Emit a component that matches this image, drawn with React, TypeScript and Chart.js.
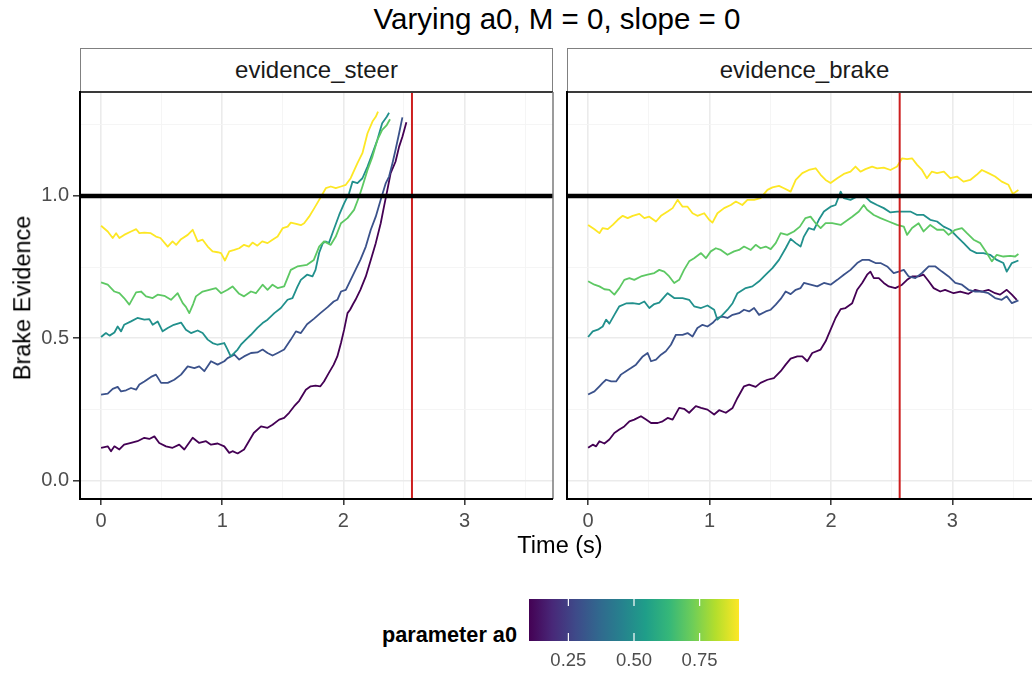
import React, { useEffect, useRef } from 'react';
import { Chart, registerables } from 'chart.js';

Chart.register(...registerables);

// ---------- data ----------
const a0Values = [0.1, 0.3, 0.5, 0.7, 0.9];
const a0Colors = ['#440154', '#3B528B', '#21908C', '#5DC863', '#FDE725'];
const viridisStops = ['#440154', '#482878', '#3E4A89', '#31688E', '#26828E', '#1F9E89', '#35B779', '#6DCD59', '#B4DE2C', '#FDE725'];

const xTicks = [0, 0.5, 1, 1.5, 2, 2.5, 3, 3.5];
const xMajor = [0, 1, 2, 3];
const yTicks = [0, 0.25, 0.5, 0.75, 1, 1.25];
const yMajor = [0, 0.5, 1];
const legendTicks = [0.25, 0.5, 0.75];

const thresholdY = 1.0;
const eventTime = 2.566;
const xLimits = [-0.174, 3.73];
const yLimits = [-0.065, 1.365];

type P = [number, number];

// evidence_steer panel
const steerA01: P[] = [[0,.115],[.055,.12],[.082,.103],[.11,.12],[.151,.109],[.19,.126],[.247,.132],[.30,.138],[.357,.15],[.398,.146],[.44,.155],[.48,.132],[.536,.12],[.59,.115],[.645,.126],[.687,.109],[.756,.15],[.81,.132],[.866,.138],[.907,.126],[.962,.13],[1.017,.12],[1.058,.097],[1.085,.103],[1.127,.095],[1.18,.109],[1.22,.138],[1.26,.167],[1.32,.19],[1.374,.185],[1.415,.196],[1.47,.214],[1.511,.22],[1.552,.238],[1.594,.261],[1.635,.28],[1.69,.319],[1.73,.331],[1.77,.333],[1.81,.331],[1.84,.348],[1.88,.378],[1.92,.407],[1.95,.436],[1.98,.483],[2.006,.53],[2.034,.588],[2.055,.60],[2.08,.62],[2.10,.635],[2.14,.67],[2.185,.717],[2.226,.775],[2.267,.834],[2.308,.904],[2.335,.962],[2.363,1.021],[2.39,1.08],[2.43,1.12],[2.46,1.173],[2.487,1.208],[2.52,1.259]];
const steerA03: P[] = [[0,.302],[.055,.305],[.096,.322],[.137,.329],[.165,.313],[.206,.317],[.247,.325],[.289,.319],[.316,.337],[.357,.348],[.412,.364],[.453,.372],[.495,.343],[.55,.343],[.604,.354],[.66,.372],[.715,.401],[.77,.395],[.81,.401],[.852,.384],[.907,.419],[.962,.407],[1.017,.419],[1.044,.43],[1.10,.442],[1.14,.425],[1.18,.436],[1.237,.448],[1.29,.45],[1.333,.46],[1.374,.448],[1.415,.439],[1.457,.448],[1.511,.46],[1.566,.495],[1.608,.524],[1.649,.518],[1.70,.549],[1.756,.568],[1.81,.588],[1.87,.609],[1.92,.629],[1.95,.635],[1.98,.664],[2.02,.67],[2.06,.705],[2.10,.74],[2.14,.775],[2.185,.822],[2.226,.881],[2.267,.927],[2.308,.986],[2.35,1.045],[2.377,1.068],[2.405,1.115],[2.43,1.161],[2.46,1.22],[2.487,1.276]];
const steerA05: P[] = [[0,.504],[.04,.518],[.07,.509],[.11,.52],[.137,.541],[.165,.524],[.19,.547],[.247,.559],[.30,.571],[.357,.565],[.398,.567],[.426,.547],[.467,.559],[.508,.524],[.55,.536],[.60,.547],[.66,.555],[.70,.53],[.742,.518],[.797,.527],[.838,.518],[.88,.495],[.92,.483],[.962,.477],[1.017,.483],[1.044,.46],[1.07,.436],[1.10,.448],[1.127,.46],[1.154,.477],[1.195,.495],[1.237,.512],[1.29,.536],[1.333,.553],[1.374,.565],[1.43,.588],[1.484,.606],[1.539,.635],[1.58,.641],[1.62,.68],[1.649,.705],[1.70,.723],[1.745,.717],[1.77,.74],[1.80,.80],[1.83,.834],[1.855,.84],[1.88,.834],[1.92,.881],[1.965,.933],[2.006,.974],[2.047,1.009],[2.075,1.05],[2.116,1.045],[2.157,1.062],[2.199,1.103],[2.24,1.15],[2.28,1.196],[2.32,1.255],[2.358,1.278],[2.377,1.292]];
const steerA07: P[] = [[0,.696],[.055,.688],[.11,.664],[.151,.658],[.19,.641],[.233,.618],[.289,.661],[.33,.664],[.371,.647],[.426,.641],[.467,.653],[.522,.649],[.577,.635],[.632,.658],[.674,.623],[.70,.61],[.728,.588],[.76,.62],[.783,.647],[.838,.664],[.893,.67],[.948,.676],[.99,.658],[1.044,.67],[1.085,.682],[1.14,.656],[1.18,.647],[1.237,.664],[1.278,.658],[1.333,.688],[1.374,.67],[1.415,.688],[1.457,.676],[1.511,.682],[1.566,.74],[1.62,.752],[1.70,.758],[1.756,.775],[1.80,.822],[1.84,.84],[1.896,.828],[1.937,.857],[1.98,.904],[2.034,.922],[2.088,.951],[2.13,.998],[2.157,1.033],[2.199,1.091],[2.24,1.138],[2.28,1.196],[2.32,1.232],[2.358,1.249],[2.385,1.269]];
const steerA09: P[] = [[0,.895],[.055,.875],[.096,.852],[.124,.869],[.151,.852],[.19,.863],[.247,.875],[.29,.883],[.316,.869],[.357,.871],[.41,.869],[.453,.857],[.49,.852],[.55,.822],[.59,.84],[.62,.828],[.66,.848],[.715,.863],[.756,.881],[.797,.84],[.838,.846],[.88,.822],[.92,.805],[.962,.802],[.99,.799],[1.022,.773],[1.058,.805],[1.10,.81],[1.14,.816],[1.18,.828],[1.22,.822],[1.25,.836],[1.29,.825],[1.33,.84],[1.374,.834],[1.415,.846],[1.457,.857],[1.50,.887],[1.54,.892],[1.566,.906],[1.61,.902],[1.649,.897],[1.676,.904],[1.717,.927],[1.76,.957],[1.80,.986],[1.855,1.027],[1.896,1.033],[1.937,1.027],[1.98,1.033],[2.02,1.039],[2.06,1.062],[2.116,1.115],[2.157,1.15],[2.199,1.22],[2.24,1.261],[2.267,1.278],[2.286,1.296]];

// evidence_brake panel
const brakeA01: P[] = [[0,.115],[.038,.126],[.066,.12],[.093,.138],[.134,.13],[.175,.144],[.216,.167],[.257,.179],[.298,.19],[.34,.208],[.38,.214],[.435,.226],[.477,.214],[.518,.202],[.573,.202],[.614,.208],[.655,.22],[.696,.214],[.75,.255],[.79,.252],[.832,.238],[.887,.261],[.93,.255],[.983,.249],[1.038,.232],[1.079,.247],[1.134,.238],[1.19,.255],[1.23,.29],[1.284,.331],[1.326,.337],[1.38,.329],[1.42,.343],[1.477,.354],[1.53,.36],[1.586,.384],[1.627,.407],[1.668,.428],[1.723,.436],[1.764,.436],[1.805,.419],[1.846,.448],[1.915,.46],[1.956,.489],[1.997,.53],[2.038,.571],[2.08,.602],[2.12,.606],[2.175,.623],[2.216,.67],[2.257,.694],[2.298,.723],[2.325,.734],[2.353,.711],[2.394,.711],[2.435,.694],[2.476,.682],[2.53,.676],[2.586,.688],[2.627,.705],[2.668,.717],[2.722,.717],[2.763,.723],[2.805,.70],[2.846,.676],[2.9,.664],[2.94,.67],[3.01,.658],[3.065,.664],[3.133,.656],[3.188,.67],[3.243,.664],[3.297,.67],[3.352,.658],[3.393,.653],[3.448,.67],[3.49,.653],[3.53,.635]];
const brakeA03: P[] = [[0,.302],[.052,.313],[.093,.331],[.12,.343],[.148,.354],[.19,.348],[.23,.348],[.27,.372],[.312,.384],[.353,.395],[.394,.407],[.45,.436],[.49,.448],[.518,.419],[.559,.425],[.60,.442],[.64,.454],[.682,.477],[.723,.512],[.778,.512],[.819,.518],[.86,.506],[.90,.536],[.942,.547],[.983,.541],[1.024,.553],[1.065,.571],[1.107,.576],[1.148,.571],[1.19,.582],[1.243,.588],[1.284,.60],[1.326,.594],[1.367,.606],[1.408,.582],[1.463,.594],[1.504,.60],[1.545,.618],[1.586,.638],[1.627,.664],[1.668,.655],[1.71,.67],[1.75,.676],[1.777,.694],[1.832,.688],[1.887,.682],[1.942,.694],[1.997,.688],[2.052,.705],[2.106,.723],[2.161,.74],[2.216,.764],[2.257,.775],[2.312,.775],[2.367,.764],[2.408,.764],[2.463,.752],[2.517,.729],[2.558,.734],[2.60,.74],[2.64,.717],[2.695,.711],[2.75,.729],[2.805,.752],[2.86,.752],[2.914,.734],[2.969,.717],[3.024,.694],[3.079,.688],[3.133,.67],[3.188,.664],[3.243,.664],[3.297,.658],[3.352,.641],[3.407,.635],[3.448,.647],[3.49,.623],[3.544,.633]];
const brakeA05: P[] = [[0,.504],[.038,.524],[.08,.53],[.12,.541],[.148,.565],[.175,.551],[.216,.582],[.257,.612],[.312,.622],[.367,.623],[.422,.62],[.463,.629],[.504,.606],[.545,.62],[.586,.625],[.627,.645],[.655,.658],[.709,.641],[.778,.641],[.832,.635],[.873,.612],[.93,.606],[.983,.615],[1.038,.60],[1.065,.565],[1.107,.582],[1.148,.60],[1.19,.623],[1.23,.658],[1.298,.676],[1.353,.682],[1.408,.70],[1.463,.723],[1.518,.746],[1.572,.775],[1.627,.816],[1.668,.849],[1.71,.834],[1.75,.822],[1.777,.857],[1.818,.887],[1.86,.881],[1.90,.916],[1.942,.945],[1.997,.962],[2.038,.968],[2.08,1.015],[2.106,.992],[2.161,.986],[2.216,.998],[2.27,1.003],[2.325,.98],[2.38,.968],[2.435,.957],[2.49,.942],[2.545,.945],[2.60,.945],[2.654,.945],[2.71,.933],[2.763,.933],[2.818,.916],[2.874,.91],[2.928,.892],[2.983,.881],[3.038,.857],[3.093,.834],[3.147,.81],[3.2,.799],[3.256,.799],[3.311,.793],[3.366,.775],[3.42,.764],[3.448,.734],[3.49,.764],[3.544,.773]];
const brakeA07: P[] = [[0,.70],[.052,.688],[.093,.682],[.134,.672],[.175,.67],[.216,.653],[.257,.676],[.298,.705],[.34,.711],[.38,.705],[.435,.717],[.49,.723],[.545,.729],[.586,.74],[.627,.734],[.668,.717],[.709,.694],[.75,.705],[.79,.74],[.832,.77],[.873,.781],[.93,.799],[.97,.781],[1.01,.805],[1.052,.816],[1.093,.81],[1.148,.793],[1.202,.805],[1.243,.81],[1.284,.822],[1.34,.81],[1.38,.828],[1.42,.816],[1.463,.822],[1.504,.813],[1.545,.834],[1.586,.869],[1.64,.863],[1.695,.875],[1.744,.892],[1.79,.922],[1.832,.927],[1.874,.904],[1.915,.887],[1.956,.904],[2.01,.904],[2.08,.898],[2.12,.91],[2.175,.927],[2.23,.945],[2.27,.968],[2.298,.951],[2.353,.933],[2.408,.922],[2.476,.91],[2.545,.898],[2.60,.892],[2.627,.863],[2.668,.887],[2.722,.904],[2.763,.875],[2.818,.898],[2.874,.881],[2.928,.881],[2.969,.863],[3.024,.881],[3.079,.887],[3.12,.869],[3.175,.846],[3.23,.834],[3.284,.799],[3.325,.77],[3.366,.793],[3.42,.787],[3.476,.789],[3.517,.787],[3.544,.796]];
const brakeA09: P[] = [[0,.898],[.052,.883],[.093,.869],[.12,.887],[.162,.883],[.203,.898],[.244,.916],[.285,.93],[.326,.922],[.367,.93],[.422,.937],[.463,.922],[.504,.927],[.559,.91],[.60,.93],[.655,.945],[.696,.957],[.737,.986],[.778,.962],[.819,.962],[.86,.939],[.90,.93],[.956,.939],[.997,.916],[1.024,.906],[1.065,.939],[1.12,.957],[1.175,.968],[1.217,.98],[1.27,.968],[1.312,.986],[1.367,.986],[1.42,.992],[1.477,1.021],[1.518,1.03],[1.572,1.035],[1.613,1.027],[1.668,1.015],[1.71,1.056],[1.764,1.08],[1.818,1.091],[1.874,1.097],[1.915,1.074],[1.956,1.056],[1.997,1.045],[2.052,1.062],[2.106,1.077],[2.161,1.085],[2.202,1.103],[2.243,1.085],[2.284,1.094],[2.339,1.103],[2.38,1.097],[2.435,1.099],[2.49,1.091],[2.545,1.103],[2.586,1.132],[2.627,1.129],[2.668,1.132],[2.71,1.109],[2.75,1.091],[2.79,1.062],[2.83,1.085],[2.874,1.08],[2.93,1.085],[2.983,1.062],[3.038,1.068],[3.092,1.05],[3.147,1.056],[3.2,1.074],[3.243,1.091],[3.297,1.08],[3.352,1.068],[3.407,1.05],[3.462,1.039],[3.498,1.007],[3.544,1.021]];

const steerSeries = [steerA01, steerA03, steerA05, steerA07, steerA09];
const brakeSeries = [brakeA01, brakeA03, brakeA05, brakeA07, brakeA09];

// ---------- styling ----------
const FONT = "'Liberation Sans', Arial, Helvetica, sans-serif";
const TICK_COLOR = '#4D4D4D';

const isIn = (arr: number[], v: number) => arr.some((m) => Math.abs(m - v) < 1e-9);

const panelFrame = {
  id: 'panelFrame',
  afterDraw(chart: any) {
    const { ctx, chartArea: a } = chart;
    const seg = (x1: number, y1: number, x2: number, y2: number, c: string, w: number) => {
      ctx.beginPath();
      ctx.strokeStyle = c;
      ctx.lineWidth = w;
      ctx.moveTo(x1, y1);
      ctx.lineTo(x2, y2);
      ctx.stroke();
    };
    ctx.save();
    seg(a.left, a.top, a.right, a.top, '#3a3a3a', 2);
    seg(a.right, a.top, a.right, a.bottom, '#7a7a7a', 1.5);
    seg(a.left, a.top - 1, a.left, a.bottom + 1, '#000', 2);
    seg(a.left - 1, a.bottom, a.right, a.bottom, '#000', 2);
    ctx.restore();
  },
};

function makePanel(canvas: HTMLCanvasElement, series: P[][], showY: boolean, padding: any, yWidth: number) {
  const seriesSets = a0Values
    .map((a, i) => ({
      label: `a0 = ${a}`,
      data: series[i].map(([x, y]) => ({ x, y })),
      borderColor: a0Colors[i],
      borderWidth: 1.8,
      pointRadius: 0,
      tension: 0,
      borderJoinStyle: 'round' as const,
      fill: false,
    }))
    .reverse();
  return new Chart(canvas, {
    type: 'line',
    data: {
      datasets: [
        {
          label: 'threshold',
          data: [{ x: xLimits[0], y: thresholdY }, { x: xLimits[1], y: thresholdY }],
          borderColor: '#000',
          borderWidth: 4.5,
          pointRadius: 0,
        },
        {
          label: 'event',
          data: [{ x: eventTime, y: yLimits[0] }, { x: eventTime, y: yLimits[1] }],
          borderColor: '#CD1F1F',
          borderWidth: 2,
          pointRadius: 0,
        },
        ...seriesSets,
      ] as any,
    },
    options: {
      responsive: false,
      animation: false,
      devicePixelRatio: 1,
      layout: { padding },
      plugins: { legend: { display: false }, tooltip: { enabled: false } },
      scales: {
        x: {
          type: 'linear',
          min: xLimits[0],
          max: xLimits[1],
          afterBuildTicks: (s: any) => { s.ticks = xTicks.map((v) => ({ value: v })); },
          afterFit: (s: any) => { s.height = 40; s.paddingLeft = 0; s.paddingRight = 0; },
          border: { display: false },
          grid: {
            color: (c: any) => (isIn(xMajor, c.tick?.value) ? '#EBEBEB' : '#F4F4F4'),
            lineWidth: (c: any) => (isIn(xMajor, c.tick?.value) ? 1.6 : 0.9),
            tickColor: (c: any) => (isIn(xMajor, c.tick?.value) ? '#333333' : 'rgba(0,0,0,0)'),
            tickWidth: 1.5,
            tickLength: 6,
          },
          ticks: {
            autoSkip: false,
            maxRotation: 0,
            minRotation: 0,
            padding: 4,
            color: TICK_COLOR,
            font: { family: FONT, size: 20 },
            callback: (v: any) => (isIn(xMajor, Number(v)) ? String(Number(v)) : ''),
          },
        },
        y: {
          type: 'linear',
          min: yLimits[0],
          max: yLimits[1],
          afterBuildTicks: (s: any) => { s.ticks = yTicks.map((v) => ({ value: v })); },
          afterFit: (s: any) => { s.width = yWidth; s.paddingTop = 0; s.paddingBottom = 0; },
          border: { display: false },
          grid: {
            color: (c: any) => (isIn(yMajor, c.tick?.value) ? '#EBEBEB' : '#F4F4F4'),
            lineWidth: (c: any) => (isIn(yMajor, c.tick?.value) ? 1.6 : 0.9),
            tickColor: (c: any) => (isIn(yMajor, c.tick?.value) ? '#333333' : 'rgba(0,0,0,0)'),
            tickWidth: 1.5,
            tickLength: 7,
            drawTicks: showY,
          },
          ticks: {
            display: showY,
            autoSkip: false,
            padding: 4,
            color: TICK_COLOR,
            font: { family: FONT, size: 20 },
            callback: (v: any) => (isIn(yMajor, Number(v)) ? Number(v).toFixed(1) : ''),
          },
        },
      },
    } as any,
    plugins: [panelFrame],
  });
}

const colorbarPlugin = {
  id: 'colorbar',
  beforeDatasetsDraw(chart: any) {
    const { ctx, chartArea: a, scales } = chart;
    const g = ctx.createLinearGradient(a.left, 0, a.right, 0);
    viridisStops.forEach((c, i) => g.addColorStop(i / (viridisStops.length - 1), c));
    ctx.save();
    ctx.fillStyle = g;
    ctx.fillRect(a.left, a.top, a.right - a.left, a.bottom - a.top);
    ctx.strokeStyle = '#FFFFFF';
    ctx.lineWidth = 1.2;
    legendTicks.forEach((v) => {
      const px = scales.x.getPixelForValue(v);
      ctx.beginPath();
      ctx.moveTo(px, a.top);
      ctx.lineTo(px, a.top + 7);
      ctx.moveTo(px, a.bottom - 8);
      ctx.lineTo(px, a.bottom);
      ctx.stroke();
    });
    ctx.restore();
  },
};

function makeColorbar(canvas: HTMLCanvasElement) {
  return new Chart(canvas, {
    type: 'line',
    data: { datasets: [] },
    options: {
      responsive: false,
      animation: false,
      devicePixelRatio: 1,
      layout: { padding: { left: 29, right: 21, top: 9, bottom: 0 } },
      plugins: { legend: { display: false }, tooltip: { enabled: false } },
      scales: {
        x: {
          type: 'linear',
          min: Math.min(...a0Values),
          max: Math.max(...a0Values),
          afterBuildTicks: (s: any) => { s.ticks = legendTicks.map((v) => ({ value: v })); },
          afterFit: (s: any) => { s.height = 33; s.paddingLeft = 0; s.paddingRight = 0; },
          border: { display: false },
          grid: { display: false, drawTicks: false },
          ticks: {
            autoSkip: false,
            maxRotation: 0,
            padding: 9,
            color: TICK_COLOR,
            font: { family: FONT, size: 18.5 },
            callback: (v: any) => Number(v).toFixed(2),
          },
        },
        y: { display: false, min: 0, max: 1 },
      },
    } as any,
    plugins: [colorbarPlugin],
  });
}

export default function App() {
  const leftRef = useRef<HTMLCanvasElement>(null);
  const rightRef = useRef<HTMLCanvasElement>(null);
  const barRef = useRef<HTMLCanvasElement>(null);

  useEffect(() => {
    const c1 = makePanel(leftRef.current!, steerSeries, true, { left: 0, top: 12, right: 7, bottom: 11 }, 60);
    const c2 = makePanel(rightRef.current!, brakeSeries, false, { left: 7, top: 12, right: 9, bottom: 11 }, 0);
    const c3 = makeColorbar(barRef.current!);
    return () => { c1.destroy(); c2.destroy(); c3.destroy(); };
  }, []);

  const abs = (s: React.CSSProperties): React.CSSProperties => ({ position: 'absolute', ...s });
  const strip: React.CSSProperties = {
    position: 'absolute', top: 48, height: 44, boxSizing: 'border-box', border: '1.3px solid #808080',
    background: '#fff', display: 'flex', alignItems: 'center', justifyContent: 'center',
    fontSize: 24, color: '#1A1A1A', fontFamily: FONT, lineHeight: 1,
  };

  return (
    <div style={{ position: 'absolute', left: 0, top: 0, width: 1032, height: 674, overflow: 'hidden', background: '#fff', fontFamily: FONT }}>
      <div style={abs({ left: 557, top: 19, transform: 'translate(-50%,-50%)', fontSize: 29.5, lineHeight: 1, whiteSpace: 'nowrap', color: '#000' })}>
        Varying a0, M = 0, slope = 0
      </div>
      <div style={{ ...strip, left: 80, width: 473 }}>evidence_steer</div>
      <div style={{ ...strip, left: 567, width: 480, justifyContent: 'flex-start', paddingLeft: 473 / 2 }}>
        <span style={{ transform: 'translateX(-50%)', display: 'inline-block' }}>evidence_brake</span>
      </div>
      <canvas ref={leftRef} width={540} height={470} style={abs({ left: 20, top: 80, width: 540, height: 470 })} />
      <canvas ref={rightRef} width={490} height={470} style={abs({ left: 560, top: 80, width: 490, height: 470 })} />
      <div style={abs({ left: 23, top: 298, transform: 'translate(-50%,-50%) rotate(-90deg)', fontSize: 23.5, lineHeight: 1, whiteSpace: 'nowrap', color: '#000' })}>
        Brake Evidence
      </div>
      <div style={abs({ left: 560, top: 546, transform: 'translate(-50%,-50%)', fontSize: 23.5, lineHeight: 1, whiteSpace: 'nowrap', color: '#000' })}>
        Time (s)
      </div>
      <div style={abs({ left: 517, top: 635, transform: 'translate(-100%,-50%)', fontSize: 21.7, fontWeight: 'bold', lineHeight: 1, whiteSpace: 'nowrap', color: '#000' })}>
        parameter a0
      </div>
      <canvas ref={barRef} width={260} height={84} style={abs({ left: 500, top: 590, width: 260, height: 84 })} />
    </div>
  );
}
